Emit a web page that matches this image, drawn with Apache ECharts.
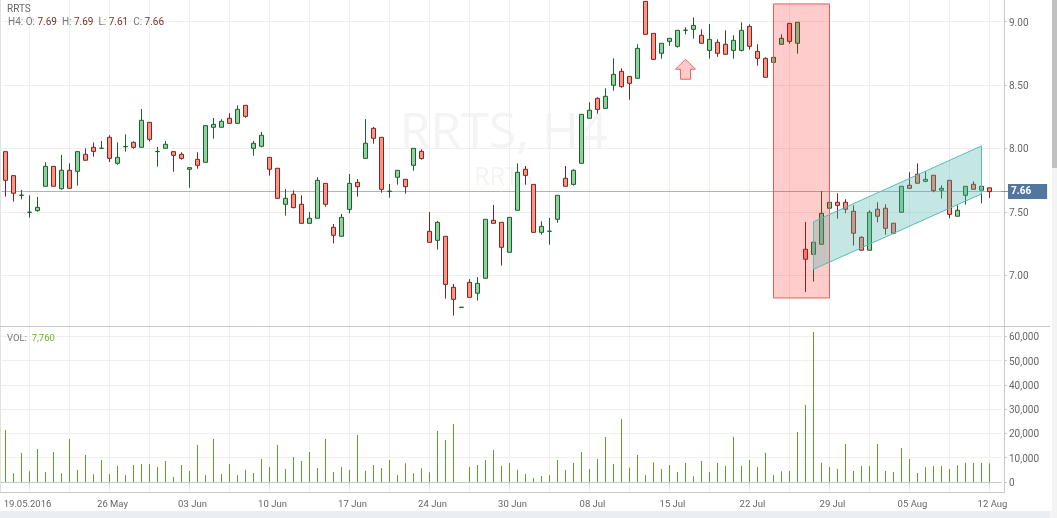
<!DOCTYPE html>
<html>
<head>
<meta charset="utf-8">
<style>html,body{margin:0;padding:0;background:#fff;overflow:hidden}#c{width:1057px;height:518px}</style>
<script src="https://cdn.jsdelivr.net/npm/echarts@6/dist/echarts.min.js"></script>
</head>
<body>
<div id="c"></div>
<script>
var symbol = 'RRTS';
var opens = [7.975,7.786,7.631,7.497,7.510,7.702,7.859,7.683,7.828,7.820,
7.954,8.009,8.001,8.088,7.883,8.014,8.048,8.009,8.206,7.975,
8.001,7.975,7.954,7.836,7.914,7.891,8.167,8.167,8.238,8.198,
8.340,8.001,8.017,7.930,7.844,7.560,7.639,7.560,7.410,7.450,
7.725,7.379,7.308,7.520,7.733,7.922,8.159,8.088,7.662,7.773,
7.757,7.867,7.977,7.347,7.276,7.308,6.906,6.748,6.945,6.859,
6.977,7.434,7.418,7.182,7.513,7.836,7.717,7.339,7.347,7.442,
7.765,7.717,7.883,8.238,8.395,8.316,8.498,8.608,8.568,8.553,
9.159,8.907,8.750,8.844,8.805,8.931,8.939,8.892,8.773,8.836,
8.821,8.773,8.773,8.962,8.765,8.710,8.679,8.821,8.986,8.829,
7.206,7.166,7.245,7.529,7.576,7.576,7.505,7.300,7.198,7.521,
7.529,7.411,7.497,7.710,7.797,7.741,7.789,7.671,7.749,7.466,
7.631,7.718,7.671,7.69];
var closes = [7.749,7.647,7.632,7.498,7.536,7.859,7.702,7.828,7.686,7.975,
7.907,7.977,8.002,7.922,7.930,8.015,8.009,8.222,8.072,7.976,
8.033,7.946,7.922,7.849,7.867,8.180,8.190,8.214,8.198,8.308,
8.253,8.041,8.104,7.836,7.607,7.607,7.534,7.410,7.450,7.749,
7.560,7.316,7.457,7.725,7.699,8.041,8.080,7.678,7.663,7.828,
7.699,8.001,7.920,7.260,7.418,6.929,6.811,6.749,6.827,6.937,
7.442,7.410,7.221,7.457,7.812,7.788,7.339,7.386,7.348,7.631,
7.702,7.828,8.269,8.301,8.308,8.411,8.584,8.487,8.513,8.789,
8.899,8.702,8.829,8.868,8.931,8.932,8.970,8.829,8.860,8.750,
8.742,8.852,8.931,8.805,8.710,8.561,8.718,8.868,8.844,8.994,
7.127,7.261,7.489,7.576,7.552,7.521,7.332,7.198,7.497,7.466,
7.371,7.332,7.702,7.686,7.726,7.757,7.668,7.686,7.481,7.513,
7.702,7.678,7.702,7.66];
var highs = [7.975,7.786,7.673,7.631,7.618,7.891,7.859,7.949,7.883,7.975,
8.001,8.048,8.059,8.104,8.048,8.111,8.056,8.311,8.206,8.012,
8.059,7.975,7.970,7.849,7.970,8.180,8.240,8.230,8.277,8.340,
8.340,8.059,8.130,7.930,7.844,7.681,7.670,7.631,7.499,7.773,
7.725,7.405,7.484,7.799,7.759,8.232,8.169,8.088,7.720,7.828,
7.757,8.001,7.993,7.499,7.429,7.308,6.932,6.749,6.971,6.987,
7.442,7.555,7.418,7.457,7.883,7.862,7.717,7.426,7.452,7.631,
7.862,7.836,8.269,8.364,8.403,8.474,8.710,8.632,8.568,8.821,
9.159,8.907,8.829,8.868,8.931,8.955,9.033,8.939,8.981,8.860,
8.931,8.892,8.994,8.978,8.821,8.718,8.718,8.899,8.986,8.994,
7.421,7.261,7.663,7.576,7.647,7.600,7.552,7.308,7.513,7.576,
7.560,7.411,7.702,7.812,7.883,7.820,7.789,7.710,7.749,7.552,
7.702,7.741,7.749,7.69];
var lows = [7.620,7.581,7.599,7.455,7.502,7.702,7.702,7.675,7.686,7.707,
7.907,7.935,8.001,7.893,7.872,7.975,7.998,8.009,8.054,7.857,
8.001,7.817,7.912,7.691,7.841,7.891,8.077,8.167,8.198,8.198,
8.243,7.943,8.009,7.786,7.607,7.471,7.528,7.410,7.410,7.450,
7.541,7.252,7.308,7.489,7.620,7.922,8.038,7.652,7.612,7.715,
7.644,7.825,7.912,7.260,7.203,6.816,6.683,6.748,6.827,6.801,
6.977,7.410,7.077,7.182,7.513,7.715,7.339,7.321,7.242,7.415,
7.702,7.707,7.883,8.238,8.274,8.316,8.456,8.479,8.385,8.553,
8.899,8.702,8.708,8.810,8.794,8.899,8.865,8.829,8.708,8.723,
8.742,8.708,8.765,8.779,8.653,8.561,8.679,8.821,8.826,8.747,
6.869,6.951,7.245,7.529,7.447,7.489,7.235,7.198,7.198,7.418,
7.321,7.324,7.497,7.686,7.726,7.734,7.655,7.605,7.450,7.466,
7.558,7.678,7.568,7.61];
var volumes = [21420,3570,11950,4390,13590,4120,12360,3570,17710,4940,
11120,3160,9060,3300,6730,2880,7000,7410,7410,6180,
8650,2060,7000,4530,15240,2880,17710,3300,7410,2750,
5080,3710,9470,6180,15240,5350,10300,8650,12360,5770,
17710,4120,6180,4940,19360,4670,7000,5770,9060,2880,
7690,3570,5630,3980,21010,17300,23890,100,6180,7000,
9060,13180,6590,7830,5080,3300,1650,2470,2750,9060,
4940,7830,12360,5350,9470,18540,7410,25950,5900,11120,
2880,8100,5350,7000,4120,7830,2330,8650,4120,7830,
6590,18670,6590,9060,6180,12080,2880,4390,4530,20600,
31720,61790,7960,6180,5350,15650,4530,6590,6590,15650,
4530,4120,14000,9470,3710,6040,6590,6590,5350,6870,
7960,7830,7830,7760];
var tickLabels = ['19.05.2016','26 May','03 Jun','10 Jun','17 Jun','24 Jun','30 Jun','08 Jul','15 Jul','22 Jul','29 Jul','05 Aug','12 Aug'];
var priceTicks = [7.00,7.50,8.00,8.50,9.00];
var volumeTicks = [0,10000,20000,30000,40000,50000,60000];
var lastPrice = 7.66;
var redBox = {x:[96,103], y:[6.822,9.139]};
var channel = {x:[101,122], lower:[7.048,7.642], upper:[7.423,8.02]};
var arrowAt = [85,8.703];

var FONT = 'Roboto, "Open Sans", sans-serif';
var TXT = '#666666';
var SPLIT = '#efefef';
var AXIS = '#c6c8ca';

var bands = opens.length + 1;
var categories = [];
for (var i = 0; i < bands; i++) categories.push(String(i));
var candle = opens.map(function (o, i) { return [o, closes[i], lows[i], highs[i]]; });
var labelFor = function (i) { return tickLabels[(i - 3) / 10]; };
var yRich = {a: {color: TXT, fontFamily: FONT, fontSize: 10, padding: [3, 0, 0, 0]}};

var xBase = {
  type: 'category', data: categories, boundaryGap: true,
  axisLine: {show: true, lineStyle: {color: AXIS}},
  splitLine: {show: true, alignWithLabel: true, interval: function (i) { return i % 5 === 3; }, lineStyle: {color: SPLIT}}
};
var chart = echarts.init(document.getElementById('c'), null, {renderer: 'canvas'});
chart.setOption({
  animation: false,
  backgroundColor: '#ffffff',
  grid: [
    {left: 1.5, width: 1000, top: 0, height: 326},
    {left: 1.5, width: 1000, top: 326, height: 166.5}
  ],
  xAxis: [
    Object.assign({}, xBase, {gridIndex: 0, axisTick: {show: false}, axisLabel: {show: false}, axisLine: {show: false}}),
    Object.assign({}, xBase, {
      gridIndex: 1,
      axisTick: {show: true, alignWithLabel: true, length: 3, lineStyle: {color: AXIS}, interval: function (i) { return i % 10 === 3; }},
      axisLabel: {
        show: true, margin: 7.5, hideOverlap: false,
        interval: function (i) { return i % 10 === 3; },
        formatter: function (v) {
          var t = labelFor(+v);
          return (+v === 3 ? '{f|' : '{t|') + t + '}';
        },
        rich: {
          t: {color: TXT, fontFamily: FONT, fontSize: 9.5, padding: [0, 0, 0, 6]},
          f: {color: TXT, fontFamily: FONT, fontSize: 9.5, padding: [0, 4, 0, 0]}
        }
      }
    })
  ],
  yAxis: [
    {
      gridIndex: 0, type: 'value', position: 'right', offset: 2.5, min: 6.601, max: 9.170, scale: true,
      axisLine: {show: true, lineStyle: {color: AXIS}},
      axisTick: {show: true, length: 3, lineStyle: {color: AXIS}, customValues: priceTicks},
      axisLabel: {margin: 5, rich: yRich, customValues: priceTicks, formatter: function (v) { return '{a|' + v.toFixed(2) + '}'; }},
      splitLine: {show: true, lineStyle: {color: SPLIT}}
    },
    {
      gridIndex: 1, type: 'value', position: 'right', offset: 2.5, min: -4325, max: 64250, scale: true,
      axisLine: {show: true, lineStyle: {color: AXIS}},
      axisTick: {show: true, length: 3, lineStyle: {color: AXIS}, customValues: volumeTicks},
      axisLabel: {margin: 5, rich: yRich, customValues: volumeTicks, formatter: function (v) { return '{a|' + v.toLocaleString('en-US') + '}'; }},
      splitLine: {show: true, lineStyle: {color: SPLIT}}
    }
  ],
  series: [
    {
      type: 'candlestick', xAxisIndex: 0, yAxisIndex: 0, data: candle, barWidth: 5, z: 3, silent: true,
      itemStyle: {color: '#8dd39b', color0: '#ff9282', borderColor: '#1f5f2b', borderColor0: '#7c2820', borderWidth: 1},
      markLine: {
        silent: true, symbol: 'none', animation: false, z: 2,
        lineStyle: {color: '#a9b5c6', width: 1, type: 'solid'},
        data: [{yAxis: lastPrice}],
        label: {
          position: 'end', distance: 6.5, formatter: lastPrice.toFixed(2),
          color: '#fff', fontWeight: 'bold', fontFamily: FONT, fontSize: 10,
          backgroundColor: '#52779f', padding: [3, 16, 2, 3]
        }
      }
    },
    {
      type: 'bar', xAxisIndex: 1, yAxisIndex: 1, data: volumes, barWidth: 1, z: 3, silent: true,
      itemStyle: {color: '#5da32b'}
    },
    {
      type: 'custom', xAxisIndex: 0, yAxisIndex: 0, data: [0], clip: false, silent: true, z: 5,
      renderItem: function (params, api) {
        var a = api.coord([redBox.x[0], redBox.y[1]]), b = api.coord([redBox.x[1], redBox.y[0]]);
        var p1 = api.coord([channel.x[0], channel.lower[0]]), p2 = api.coord([channel.x[0], channel.upper[0]]);
        var p3 = api.coord([channel.x[1], channel.upper[1]]), p4 = api.coord([channel.x[1], channel.lower[1]]);
        var t = api.coord(arrowAt);
        return {type: 'group', children: [
          {type: 'rect', shape: {x: a[0], y: a[1], width: b[0] - a[0], height: b[1] - a[1]},
           style: {fill: 'rgba(255,0,0,0.2)', stroke: '#e85c5c', lineWidth: 1}},
          {type: 'polygon', shape: {points: [p1, p2, p3, p4]},
           style: {fill: 'rgba(75,180,170,0.32)', stroke: '#55bdb8', lineWidth: 1}},
          {type: 'polygon', shape: {points: [
            [t[0], t[1]], [t[0] + 10, t[1] + 10], [t[0] + 5, t[1] + 10], [t[0] + 5, t[1] + 20],
            [t[0] - 5, t[1] + 20], [t[0] - 5, t[1] + 10], [t[0] - 10, t[1] + 10]]},
           style: {fill: '#ffcaca', stroke: '#ff5f5f', lineWidth: 1}}
        ]};
      }
    }
  ],
  graphic: [
    {type: 'rect', silent: true, z: 10, shape: {x: 0, y: 511, width: 1050, height: 7}, style: {fill: '#eaeef2'}},
    {type: 'rect', silent: true, z: 10, shape: {x: 1050, y: 511, width: 7, height: 7}, style: {fill: '#f5f5f5'}},
    {type: 'rect', silent: true, z: 10, shape: {x: 1052, y: 0, width: 5, height: 518}, style: {fill: '#f3f3f3'}},
    {type: 'rect', silent: true, z: 11, shape: {x: 1052, y: 0, width: 5, height: 168}, style: {fill: '#c1c1c1'}},
    {type: 'line', silent: true, z: 10, shape: {x1: 0, y1: 326.5, x2: 1050, y2: 326.5}, style: {stroke: AXIS, lineWidth: 1}},
    {type: 'line', silent: true, z: 10, shape: {x1: 0, y1: 492.5, x2: 1004, y2: 492.5}, style: {stroke: AXIS, lineWidth: 1}},
    {type: 'line', silent: true, z: 1, shape: {x1: 0.5, y1: 0, x2: 0.5, y2: 492}, style: {stroke: '#dfe1e3', lineWidth: 1}},
    {type: 'line', silent: true, z: 1, shape: {x1: 1001, y1: 191.5, x2: 1008, y2: 191.5}, style: {stroke: '#7f92aa', lineWidth: 1}},
    {type: 'text', silent: true, z: 0, style: {x: 503.5, y: 134, text: 'RRTS, H4', fill: '#f4f4f4', font: '50px "Open Sans", sans-serif', align: 'center', verticalAlign: 'middle'}},
    {type: 'text', silent: true, z: 0, style: {x: 503.5, y: 178, text: symbol, fill: '#f4f4f4', font: '25px "Open Sans", sans-serif', align: 'center', verticalAlign: 'middle'}},
    {type: 'text', silent: true, z: 12, style: {x: 7, y: 4, text: symbol, fill: '#666', font: '10px ' + FONT}},
    {type: 'text', silent: true, z: 12, style: {x: 8, y: 17, text: '{g|H4: O:}{r| 7.69}{g|  H:}{r| 7.69}{g|  L:}{r| 7.61}{g|  C:}{r| 7.66}',
      rich: {g: {fill: '#777', font: '10px ' + FONT}, r: {fill: '#7c3028', font: '10px ' + FONT}}}},
    {type: 'text', silent: true, z: 12, style: {x: 7, y: 334, text: '{g|VOL:}{v|  7,760}',
      rich: {g: {fill: '#777', font: '9.5px ' + FONT}, v: {fill: '#6cb022', font: '9.5px ' + FONT}}}}
  ]
});
</script>
</body>
</html>
